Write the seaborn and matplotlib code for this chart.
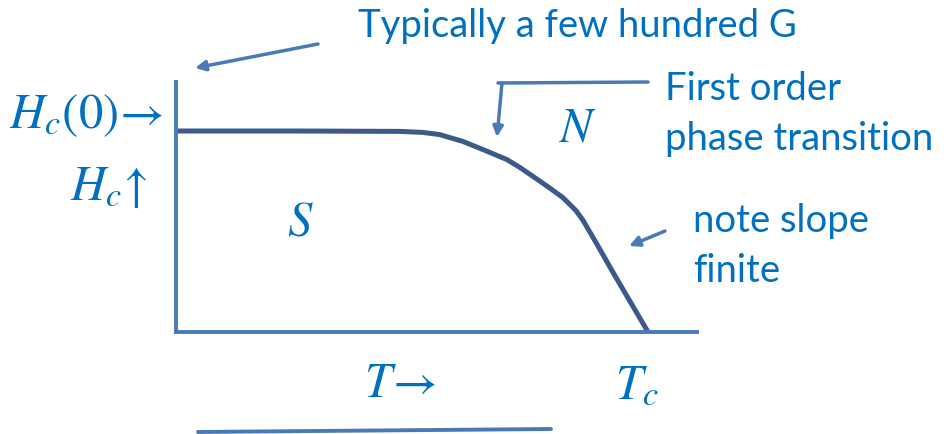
import numpy as np
import pandas as pd
import matplotlib
matplotlib.use('Agg')
from matplotlib import pyplot as plt
import seaborn as sns

sns.set_style('white')
plt.rcParams['font.family'] = ['Lato', 'DejaVu Sans']
plt.rcParams['mathtext.fontset'] = 'stix'

# critical field curve, T/Tc vs Hc/Hc(0)
t_frac = [0.0, 0.26, 0.475, 0.523, 0.559, 0.608, 0.653, 0.701, 0.729,
          0.765, 0.792, 0.820, 0.847, 0.862, 0.894, 0.926, 0.963, 1.0]
hc_frac = [1.0, 1.0, 0.998, 0.993, 0.982, 0.948, 0.905, 0.858, 0.818,
           0.760, 0.716, 0.668, 0.605, 0.557, 0.428, 0.296, 0.148, 0.0]

df = pd.DataFrame({'T': t_frac, 'Hc': hc_frac})

text_blue = '#0070c0'
line_blue = '#4a7ab5'
curve_col = '#3b5a8a'

W, H = 945, 434
fig = plt.figure(figsize=(W / 100, H / 100), dpi=100)

# data axes: origin at pixel (176, 332)
ax = fig.add_axes([176 / W, (H - 332) / H, 521 / W, 250 / H])
sns.lineplot(data=df, x='T', y='Hc', ax=ax, color=curve_col, linewidth=3.6,
             solid_capstyle='butt', solid_joinstyle='round')
ax.set_xlim(0, 521 / 472)
ax.set_ylim(0, 250 / 201)
ax.set_xticks([])
ax.set_yticks([])
ax.set_xlabel('')
ax.set_ylabel('')
for s in ['top', 'right']:
    ax.spines[s].set_visible(False)
for s in ['left', 'bottom']:
    ax.spines[s].set_color(line_blue)
    ax.spines[s].set_linewidth(2.8)
ax.patch.set_alpha(0)

# overlay in pixel coordinates for labels and arrows
ov = fig.add_axes([0, 0, 1, 1], zorder=-1)
ov.set_xlim(0, W)
ov.set_ylim(H, 0)
ov.axis('off')

def arrow(x0, y0, x1, y1):
    ov.annotate('', xy=(x1, y1), xytext=(x0, y0),
                arrowprops=dict(arrowstyle='-|>,head_length=0.6,head_width=0.3',
                                color=line_blue, lw=2.5, shrinkA=0, shrinkB=0))

fs_txt = 27.5
fs_math = 35

ov.text(358, 26, 'Typically a few hundred G', fontsize=fs_txt, color=text_blue,
        va='center', ha='left')
arrow(318, 44, 195, 68)

ov.text(163, 116, r'$H_c(0)\!\rightarrow$', fontsize=fs_math, color=text_blue,
        ha='right', va='center')
ov.text(148, 188, r'$H_c\!\uparrow$', fontsize=fs_math, color=text_blue,
        ha='right', va='center')
ov.text(300, 222, r'$S$', fontsize=fs_math, color=text_blue, ha='center', va='center')
ov.text(578, 127, r'$N$', fontsize=fs_math, color=text_blue, ha='center', va='center')

ov.text(665, 89, 'First order', fontsize=fs_txt, color=text_blue, va='center')
ov.text(665, 139, 'phase transition', fontsize=fs_txt, color=text_blue, va='center')
ov.plot([648, 498], [82, 83], color=line_blue, lw=2.5)
arrow(502, 83, 497, 137)

ov.text(693, 221, 'note slope', fontsize=fs_txt, color=text_blue, va='center')
ov.text(693, 271, 'finite', fontsize=fs_txt, color=text_blue, va='center')
arrow(665, 231, 629, 246)

ov.text(400, 383, r'$T\!\rightarrow$', fontsize=fs_math, color=text_blue,
        ha='center', va='center')
ov.text(637, 385, r'$T_c$', fontsize=fs_math, color=text_blue, ha='center', va='center')

ov.plot([198, 551], [432, 429], color=line_blue, lw=2.8)

fig.savefig('out.png', dpi=100)
